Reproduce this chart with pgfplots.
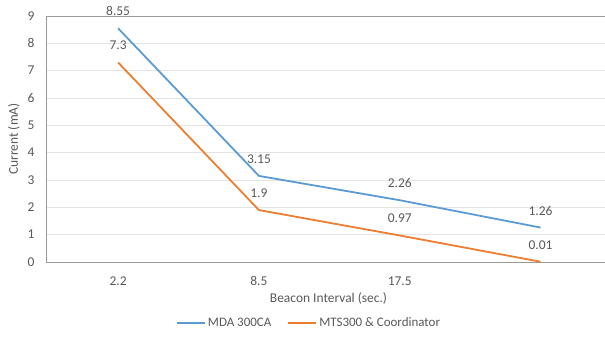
\documentclass[border=0pt]{standalone}
\usepackage{pgfplots}
\pgfplotsset{compat=1.18}
\usepackage{fontspec}
\setmainfont{Carlito}
\definecolor{txt}{HTML}{595959}
\definecolor{s1}{HTML}{5B9BD5}
\definecolor{s2}{HTML}{ED7D31}
\definecolor{grd}{HTML}{E3E3E3}
\definecolor{axl}{HTML}{9A9A9A}
\begin{document}
\begin{tikzpicture}
\begin{axis}[
  at={(0,0)}, anchor=south west,
  scale only axis, width=565bp, height=246bp,
  xmin=-0.512, xmax=3.5, ymin=0, ymax=9,
  xtick={0,1,2,3}, xticklabels={2.2,8.5,17.5,{}},
  ytick={0,1,...,9},
  major tick length=0pt,
  ymajorgrids, grid style={grd, line width=0.8pt},
  axis line style={axl, line width=0.9pt},
  tick label style={txt, font=\fontsize{13.5}{15}\selectfont},
  /pgf/number format/assume math mode=true,
  xticklabel style={yshift=-11bp},
  yticklabel style={xshift=-8bp},
  xlabel={Beacon Interval (sec.)}, ylabel={Current (mA)},
  every axis x label/.style={at={(rel axis cs:0.5,0)}, anchor=center, yshift=-37bp, txt, font=\fontsize{13.5}{15}\selectfont},
  every axis y label/.style={at={(rel axis cs:-0.057,0.5)}, anchor=center, rotate=90, txt, font=\fontsize{13.5}{15}\selectfont},
  clip=false,
  nodes near coords, point meta=explicit symbolic,
  every node near coord/.style={anchor=center, yshift=17bp, txt, font=\fontsize{13.5}{15}\selectfont},
  legend columns=2,
  legend style={at={(rel axis cs:0.4655,-0.248)}, anchor=center, draw=none, fill=none,
    font=\fontsize{13}{15}\selectfont\color{txt},
    /tikz/every even column/.append style={column sep=14bp}},
  legend image code/.code={\draw[#1, line width=2pt] (0bp,0bp) -- (28bp,0bp);},
]
\addplot[s1, line width=1.8pt] table[meta=l] {
x y l
0 8.55 8.55
1 3.15 3.15
2 2.26 2.26
3 1.26 1.26
};
\addlegendentry{MDA 300CA}
\addplot[s2, line width=1.8pt] table[meta=l] {
x y l
0 7.3 7.3
1 1.9 1.9
2 0.97 0.97
3 0.01 0.01
};
\addlegendentry{MTS300 \& Coordinator}
\end{axis}
\pgfresetboundingbox
\path (-46bp,-83bp) rectangle (559bp,262bp);
\end{tikzpicture}
\end{document}
